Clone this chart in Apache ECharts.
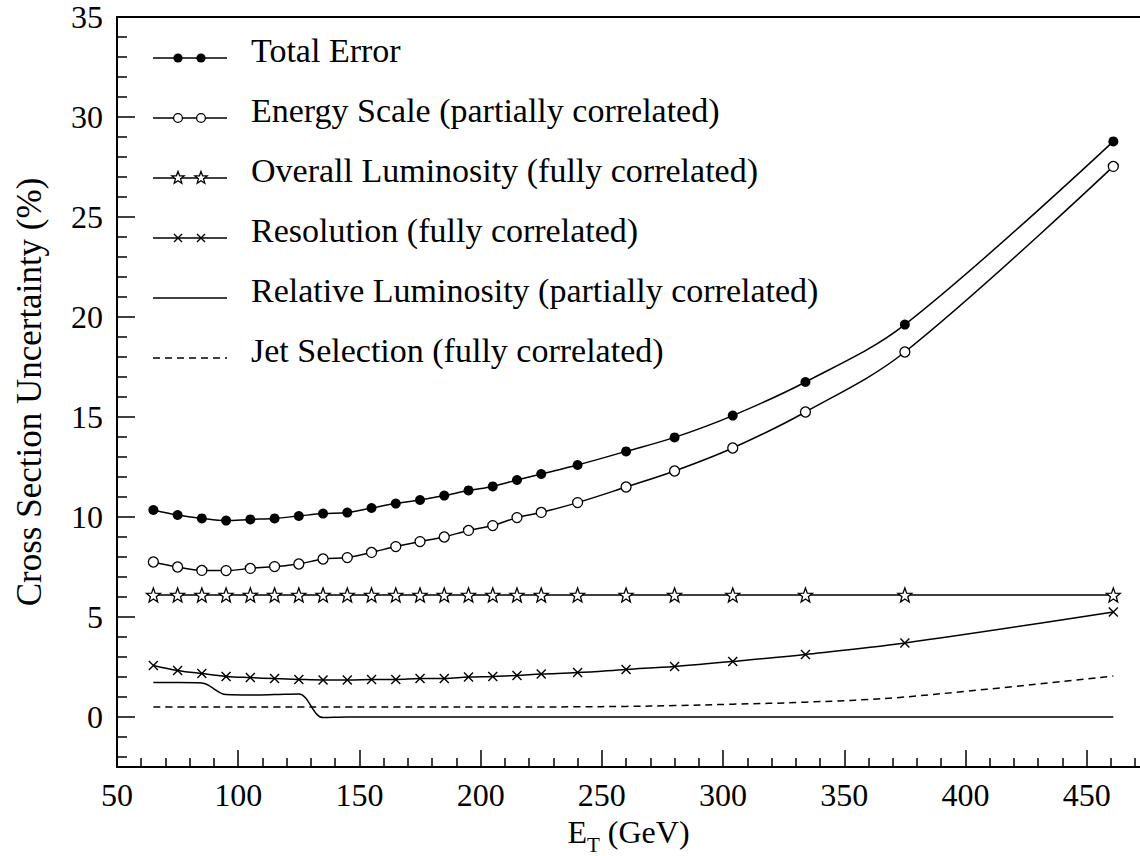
<!DOCTYPE html>
<html>
<head>
<meta charset="utf-8">
<script src="https://cdn.jsdelivr.net/npm/echarts@6/dist/echarts.min.js"></script>
<style>
  html, body { margin: 0; padding: 0; background: #fff; }
  #chart { width: 1140px; height: 856px; }
</style>
</head>
<body>
<div id="chart"></div>
<script>
// jet E_T bin centres (GeV)
const energies = [65, 75, 85, 95, 105, 115, 125, 135, 145, 155, 165, 175, 185, 195, 205, 215, 225, 240, 260, 280, 304, 334, 375, 461]

// uncertainties in %
const totalError = [10.35, 10.1, 9.93, 9.82, 9.88, 9.93, 10.05, 10.17, 10.22, 10.45, 10.67, 10.85, 11.07, 11.33, 11.53, 11.85, 12.15, 12.6, 13.28, 13.98, 15.07, 16.75, 19.62, 28.78]
const energyScale = [7.75, 7.5, 7.33, 7.32, 7.43, 7.52, 7.65, 7.9, 7.97, 8.23, 8.52, 8.77, 9.0, 9.33, 9.57, 9.97, 10.23, 10.72, 11.5, 12.3, 13.45, 15.25, 18.25, 27.53]
const overallLumi = [6.1, 6.1, 6.1, 6.1, 6.1, 6.1, 6.1, 6.1, 6.1, 6.1, 6.1, 6.1, 6.1, 6.1, 6.1, 6.1, 6.1, 6.1, 6.1, 6.1, 6.1, 6.1, 6.1, 6.1]
const resolution = [2.58, 2.33, 2.17, 2.03, 1.97, 1.92, 1.88, 1.85, 1.85, 1.87, 1.88, 1.92, 1.93, 2.0, 2.03, 2.08, 2.15, 2.22, 2.38, 2.53, 2.78, 3.13, 3.7, 5.25]
const relativeLumi = [1.72, 1.72, 1.7, 1.12, 1.1, 1.12, 1.15, -0.03, 0, 0, 0, 0, 0, 0, 0, 0, 0, 0, 0, 0, 0, 0, 0, 0]
const jetSelection = [0.5, 0.5, 0.5, 0.5, 0.5, 0.5, 0.5, 0.5, 0.5, 0.5, 0.5, 0.5, 0.5, 0.5, 0.5, 0.5, 0.5, 0.51, 0.53, 0.57, 0.64, 0.74, 1.0, 2.05]

const seriesNames = [
  'Total Error',
  'Energy Scale (partially correlated)',
  'Overall Luminosity (fully correlated)',
  'Resolution (fully correlated)',
  'Relative Luminosity (partially correlated)',
  'Jet Selection (fully correlated)',
]

// axis ticks / labels
const xMajorTicks = [50, 100, 150, 200, 250, 300, 350, 400, 450]
const yMajorTicks = [0, 5, 10, 15, 20, 25, 30, 35]
const xMinorTicks = []
for (let v = 60; v <= 470; v += 10) if (v % 50 !== 0) xMinorTicks.push(v)
const yMinorTicks = []
for (let v = -2; v <= 34; v += 1) if (v % 5 !== 0) yMinorTicks.push(v)

const FONT = "'Liberation Serif', 'DejaVu Serif', serif"
const BLACK = '#000'

const starPath = (() => {
  let d = ''
  for (let i = 0; i < 10; i++) {
    const r = i % 2 === 0 ? 50 : 21
    const a = -Math.PI / 2 + i * Math.PI / 5
    d += (i === 0 ? 'M' : 'L') + (50 + r * Math.cos(a)).toFixed(1) + ',' + (52 + r * Math.sin(a)).toFixed(1)
  }
  return d + 'Z'
})()
const crossPath = 'M0,0L10,10M10,0L0,10'

// legend icon: short line sample with two markers, drawn as a small svg
function legendIcon(kind) {
  const y = 28
  let line = `<line x1="0" y1="${y}" x2="74" y2="${y}" stroke="#000" stroke-width="1.5"${kind === 'dash' ? ' stroke-dasharray="7,5"' : ''}/>`
  let marks = ''
  ;[25, 48].forEach(cx => {
    if (kind === 'dot') marks += `<circle cx="${cx}" cy="${y}" r="4.6" fill="#000"/>`
    if (kind === 'ring') marks += `<circle cx="${cx}" cy="${y}" r="4.4" fill="#fff" stroke="#000" stroke-width="1.3"/>`
    if (kind === 'star') marks += `<path transform="translate(${cx - 6.5},${y - 6.8}) scale(0.13)" d="${starPath}" fill="#fff" stroke="#000" stroke-width="10"/>`
    if (kind === 'cross') marks += `<path d="M${cx - 4},${y - 4}L${cx + 4},${y + 4}M${cx + 4},${y - 4}L${cx - 4},${y + 4}" stroke="#000" stroke-width="1.4"/>`
  })
  const svg = `<svg xmlns="http://www.w3.org/2000/svg" width="93" height="40" viewBox="0 0 93 40">${line}${marks}</svg>`
  return 'image://data:image/svg+xml;charset=utf-8,' + encodeURIComponent(svg)
}

const styles = [
  { symbol: 'circle', size: 10, icon: 'dot', item: { color: BLACK } },
  { symbol: 'circle', size: 10, icon: 'ring', item: { color: '#fff', borderColor: BLACK, borderWidth: 1.3 } },
  { symbol: 'path://' + starPath, size: 14, icon: 'star', item: { color: '#fff', borderColor: BLACK, borderWidth: 1.3 } },
  { symbol: 'path://' + crossPath, size: 9, icon: 'cross', item: { color: BLACK, borderColor: BLACK, borderWidth: 1.4 } },
  { symbol: 'none', size: 0, icon: 'line', item: { color: BLACK } },
  { symbol: 'none', size: 0, icon: 'dash', item: { color: BLACK }, dash: [7, 5] },
]
const allValues = [totalError, energyScale, overallLumi, resolution, relativeLumi, jetSelection]

const series = allValues.map((vals, i) => ({
  name: seriesNames[i],
  type: 'line',
  data: energies.map((e, k) => [e, vals[k]]),
  smooth: 0.35,
  symbol: styles[i].symbol,
  symbolSize: styles[i].size,
  showAllSymbol: true,
  itemStyle: styles[i].item,
  lineStyle: { color: BLACK, width: 1.5, type: styles[i].dash || 'solid' },
  emphasis: { disabled: true },
  z: 10 - i,
}))

const chart = echarts.init(document.getElementById('chart'), null, { renderer: 'svg' })
chart.setOption({
  animation: false,
  backgroundColor: '#fff',
  grid: { left: 117, right: 0, top: 17, bottom: 89, containLabel: false, outerBoundsMode: 'none' },
  legend: {
    orient: 'vertical',
    left: 153,
    top: 30,
    padding: 0,
    itemGap: 20,
    itemWidth: 93,
    itemHeight: 40,
    selectedMode: false,
    textStyle: { fontFamily: FONT, fontSize: 34, color: BLACK, lineHeight: 40 },
    data: seriesNames.map((n, i) => ({ name: n, icon: legendIcon(styles[i].icon) })),
  },
  xAxis: [
    {
      type: 'value', min: 50, max: 472, position: 'bottom',
      name: '{a|E}{s|T}{a| (GeV)}',
      nameLocation: 'middle', nameGap: 40,
      nameTextStyle: {
        rich: {
          a: { fontFamily: FONT, fontSize: 32, color: BLACK, lineHeight: 40, verticalAlign: 'top' },
          s: { fontFamily: FONT, fontSize: 21, color: BLACK, lineHeight: 21, padding: [19, 0, 0, 0], verticalAlign: 'top' },
        },
      },
      axisLine: { show: true, onZero: false, lineStyle: { color: BLACK, width: 2 } },
      axisTick: { show: true, inside: true, length: 17, customValues: xMajorTicks, lineStyle: { color: BLACK, width: 1.5 } },
      axisLabel: { customValues: xMajorTicks, fontFamily: FONT, fontSize: 32, color: BLACK, margin: 12 },
      splitLine: { show: false },
    },
    {
      type: 'value', min: 50, max: 472, position: 'bottom',
      axisLine: { show: false, onZero: false },
      axisTick: { show: true, inside: true, length: 9, customValues: xMinorTicks, lineStyle: { color: BLACK, width: 1.5 } },
      axisLabel: { show: false },
      splitLine: { show: false },
    },
    {
      type: 'value', min: 50, max: 472, position: 'top',
      axisLine: { show: true, onZero: false, lineStyle: { color: BLACK, width: 2 } },
      axisTick: { show: false },
      axisLabel: { show: false },
      splitLine: { show: false },
    },
  ],
  yAxis: [
    {
      type: 'value', min: -2.5, max: 35, position: 'left',
      name: 'Cross Section Uncertainty (%)',
      nameLocation: 'middle', nameGap: 70,
      nameTextStyle: { fontFamily: FONT, fontSize: 35, color: BLACK },
      axisLine: { show: true, onZero: false, lineStyle: { color: BLACK, width: 2 } },
      axisTick: { show: true, inside: true, length: 18, customValues: yMajorTicks, lineStyle: { color: BLACK, width: 1.5 } },
      axisLabel: { customValues: yMajorTicks, fontFamily: FONT, fontSize: 32, color: BLACK, margin: 14 },
      splitLine: { show: false },
    },
    {
      type: 'value', min: -2.5, max: 35, position: 'left',
      axisLine: { show: false, onZero: false },
      axisTick: { show: true, inside: true, length: 10, customValues: yMinorTicks, lineStyle: { color: BLACK, width: 1.5 } },
      axisLabel: { show: false },
      splitLine: { show: false },
    },
  ],
  series,
})
</script>
</body>
</html>
